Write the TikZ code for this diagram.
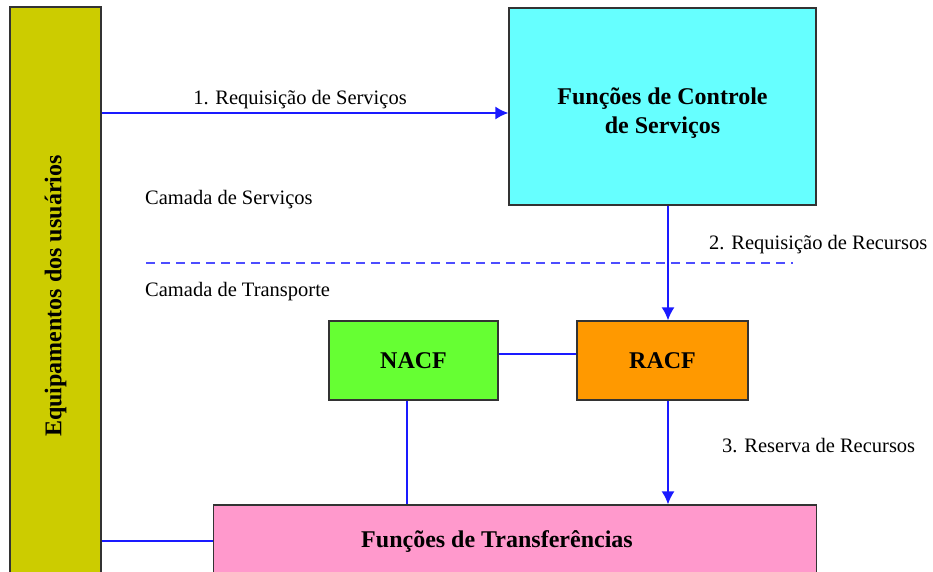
\documentclass[tikz,border=0pt]{standalone}
\usepackage{fontspec}
\setmainfont{Liberation Serif}
\usetikzlibrary{arrows.meta}
\definecolor{userfill}{HTML}{CCCC00}
\definecolor{ctrlfill}{HTML}{66FFFF}
\definecolor{nacffill}{HTML}{66FF33}
\definecolor{racffill}{HTML}{FF9900}
\definecolor{transffill}{HTML}{FF99CC}
\definecolor{boxline}{HTML}{333333}
\definecolor{linkblue}{HTML}{1A1AFF}
\definecolor{layerblue}{HTML}{4D4DFF}
\begin{document}
\begin{tikzpicture}[
		x={(1pt,0pt)},
		y={(0pt,-1pt)},
		box/.style={draw=boxline,line width=1.2pt,inner sep=0pt},
		boxtext/.style={font=\fontsize{24}{29}\selectfont\bfseries,align=center},
		lbl/.style={font=\fontsize{20.5}{24}\selectfont,inner sep=0pt},
		conn/.style={draw=linkblue,line width=1.8pt},
		arr/.style={conn,-{Latex[length=13pt,width=13pt]}},
	]
		\useasboundingbox (0,0) rectangle (933,571);
		\clip (0,0) rectangle (933,571);
		
		% boxes
		\node[box,fill=userfill,minimum width=91pt,minimum height=578pt] (ue) at (55.5,296) {};
		\node[boxtext,rotate=90] (uetext) at (ue.center) {Equipamentos dos usuários};
		\node[box,fill=ctrlfill,minimum width=307pt,minimum height=197pt] (ctrl) at (662.5,106.5) {};
		\node[boxtext] (ctrltext) at (662.5,113.5) {Funções de Controle\\de Serviços};
		\node[box,fill=nacffill,minimum width=169pt,minimum height=79pt,boxtext] (nacf) at (413.5,360.5) {NACF};
		\node[box,fill=racffill,minimum width=171pt,minimum height=79pt,boxtext] (racf) at (662.5,360.5) {RACF};
		\node[box,fill=transffill,minimum width=603pt,minimum height=72pt] (transf) at (515,541) {};
		\node[boxtext] (transftext) at (497,541) {Funções de Transferências};
		
		% layers
		\draw[layerblue,line width=1.5pt,dash pattern=on 9pt off 6pt] (146,263) -- (793,263);
		\node[lbl,anchor=base west] (servlayer) at (145,204) {Camada de Serviços};
		\node[lbl,anchor=base west] (translayer) at (145,296) {Camada de Transporte};
		
		% connectors
		\coordinate (r1) at (0,113);
		\coordinate (r2) at (668,0);
		\coordinate (nr) at (0,354);
		\coordinate (nt) at (407,0);
		\coordinate (ut) at (0,541);
		\draw[arr] (ue.east |- r1) -- (ctrl.west |- r1);
		\draw[arr] (ctrl.south -| r2) -- (racf.north -| r2);
		\draw[arr] (racf.south -| r2) -- (transf.north -| r2);
		\draw[conn] (nacf.east |- nr) -- (racf.west |- nr);
		\draw[conn] (nacf.south -| nt) -- (transf.north -| nt);
		\draw[conn] (ue.east |- ut) -- (transf.west |- ut);
		
		% labels
		\node[lbl,anchor=base] (req1) at (300,104) {1. Requisição de Serviços};
		\node[lbl,anchor=base west] (req2) at (709,249) {2. Requisição de Recursos};
		\node[lbl,anchor=base west] (res3) at (722,452) {3. Reserva de Recursos};
	\end{tikzpicture}
\end{document}
